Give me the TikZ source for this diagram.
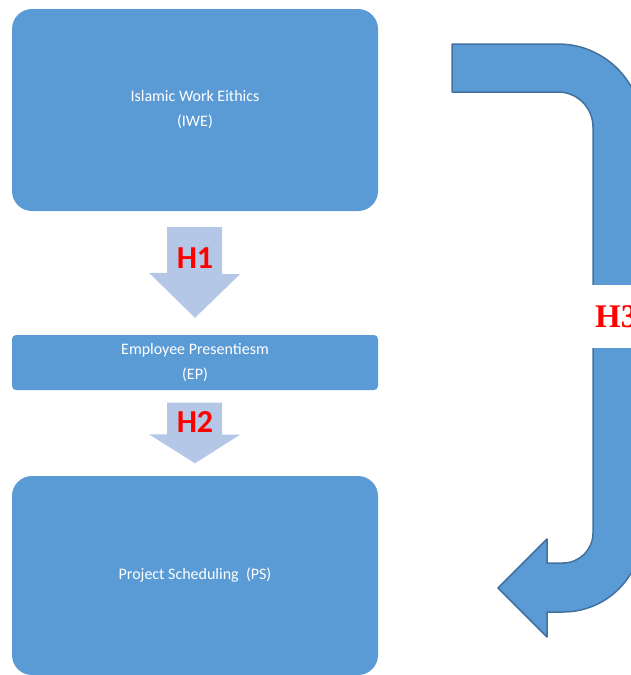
\documentclass[tikz,border=0pt]{standalone}
\usepackage{fontspec}
\setmainfont{Carlito}
\newfontfamily\timesfont{Liberation Serif}
\usetikzlibrary{calc}
\definecolor{boxblue}{HTML}{5B9BD5}
\definecolor{borderblue}{HTML}{41719C}
\definecolor{arrowblue}{HTML}{B4C7E7}

\begin{document}
\begin{tikzpicture}[x=1pt,y=-1pt,
					box/.style={rectangle,fill=boxblue,text=white,minimum width=366pt,
						align=center,font=\fontsize{16}{25}\selectfont},
					hyp/.style={text=red,font=\fontsize{32}{32}\selectfont\bfseries},
					hyparrow/.style={fill=arrowblue},
					bent/.style={fill=boxblue,draw=borderblue,line width=1.5pt,line join=round}]
	\useasboundingbox (0,0) rectangle (631,675);
	\clip (0,0) rectangle (631,675);
	\node[box,rounded corners=20pt,minimum height=202pt] (iwe) at (195,110)
		{Islamic Work Eithics\\(IWE)};
	\node[box,rounded corners=4pt,minimum height=55pt] (ep) at (195,362.5)
		{Employee Presentiesm\\(EP)};
	\node[box,rounded corners=20pt,minimum height=199pt] (ps) at (195,575.5)
		{Project Scheduling~ (PS)};
	% H1 and H2
	\fill[hyparrow] ($(iwe.south)+(-28,16)$) -- ++(55,0) -- ++(0,47) -- ++(18,0)
		-- ($(ep.north)+(0,-17)$) -- ++(-46,-45) -- ++(18,0) -- cycle;
	\fill[hyparrow] ($(ep.south)+(-28,12.5)$) -- ++(55,0) -- ++(0,32) -- ++(18,0)
		-- ($(ps.north)+(0,-12.5)$) -- ++(-46,-29) -- ++(18,0) -- cycle;
	\node[hyp] (h1) at ($(iwe.south)+(0,47)$) {H1};
	\node[hyp] (h2) at ($(ep.south)+(0,32)$) {H2};
	% H3
	\draw[bent] (452,44) -- (558,44) arc[start angle=90,end angle=0,radius=84pt]
		-- (642,533) arc[start angle=0,end angle=-90,radius=79pt]
		-- (547,612) -- (547,637) -- (498,588) -- (547,539) -- (547,563) -- (563,563)
		arc[start angle=-90,end angle=0,radius=30pt]
		-- (593,127) arc[start angle=0,end angle=90,radius=35pt]
		-- (452,92) -- cycle;
	\node[fill=white,anchor=west,minimum height=63pt,inner xsep=4pt,text=red,
		font=\fontsize{33}{33}\selectfont\timesfont\bfseries] (h3) at (591,316.5) {H3};
\end{tikzpicture}
\end{document}
